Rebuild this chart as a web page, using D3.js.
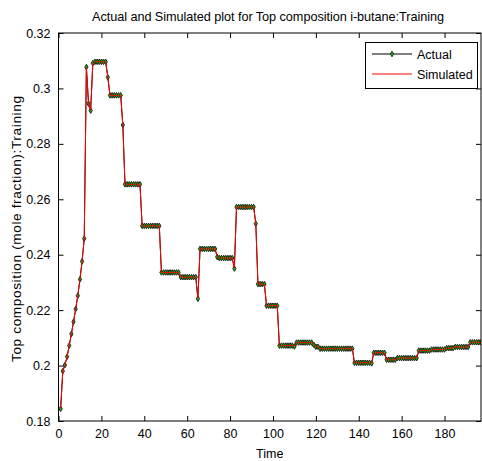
<!DOCTYPE html>
<html>
<head>
<meta charset="utf-8">
<script src="https://cdn.jsdelivr.net/npm/d3@7"></script>
<style>
  html, body { margin: 0; padding: 0; background: #fff; }
  svg { display: block; }
  text { font-family: "Liberation Sans", Arial, Helvetica, sans-serif; fill: #000; }
</style>
</head>
<body>
<svg id="chart" width="482" height="461"></svg>
<script>
// Top composition of i-butane, sampled at time steps 1..197
const actual = [
  0.1844, 0.1980, 0.2002, 0.2032, 0.2072, 0.2114, 0.2158, 0.2204, 0.2252, 0.2311,
  0.2376, 0.2458, 0.3077, 0.2945, 0.2920, 0.3091, 0.3096, 0.3096, 0.3096, 0.3096,
  0.3096, 0.3096, 0.3040, 0.2975, 0.2975, 0.2975, 0.2975, 0.2975, 0.2975, 0.2868,
  0.2654, 0.2654, 0.2654, 0.2654, 0.2654, 0.2654, 0.2654, 0.2654, 0.2504, 0.2504,
  0.2504, 0.2504, 0.2504, 0.2504, 0.2504, 0.2504, 0.2504, 0.2336, 0.2336, 0.2336,
  0.2336, 0.2336, 0.2336, 0.2336, 0.2336, 0.2336, 0.2319, 0.2319, 0.2319, 0.2319,
  0.2319, 0.2319, 0.2319, 0.2319, 0.2241, 0.2421, 0.2421, 0.2421, 0.2421, 0.2421,
  0.2421, 0.2421, 0.2421, 0.2392, 0.2388, 0.2388, 0.2388, 0.2388, 0.2388, 0.2388,
  0.2388, 0.2350, 0.2572, 0.2572, 0.2572, 0.2572, 0.2572, 0.2572, 0.2572, 0.2572,
  0.2572, 0.2512, 0.2294, 0.2294, 0.2294, 0.2294, 0.2216, 0.2216, 0.2216, 0.2216,
  0.2216, 0.2216, 0.2072, 0.2072, 0.2072, 0.2072, 0.2072, 0.2072, 0.2072, 0.2069,
  0.2083, 0.2083, 0.2083, 0.2083, 0.2083, 0.2083, 0.2083, 0.2083, 0.2075, 0.2068,
  0.2068, 0.2061, 0.2061, 0.2061, 0.2061, 0.2061, 0.2061, 0.2061, 0.2061, 0.2061,
  0.2061, 0.2061, 0.2061, 0.2061, 0.2061, 0.2061, 0.2061, 0.2010, 0.2010, 0.2010,
  0.2010, 0.2010, 0.2010, 0.2010, 0.2010, 0.2008, 0.2046, 0.2046, 0.2046, 0.2046,
  0.2046, 0.2046, 0.2021, 0.2021, 0.2021, 0.2021, 0.2021, 0.2027, 0.2027, 0.2027,
  0.2027, 0.2027, 0.2027, 0.2027, 0.2027, 0.2027, 0.2027, 0.2054, 0.2054, 0.2054,
  0.2054, 0.2054, 0.2054, 0.2058, 0.2058, 0.2058, 0.2058, 0.2058, 0.2058, 0.2058,
  0.2063, 0.2063, 0.2063, 0.2063, 0.2067, 0.2067, 0.2067, 0.2067, 0.2067, 0.2067,
  0.2067, 0.2084, 0.2084, 0.2084, 0.2084, 0.2084, 0.2084
];

// Network output for the same time steps
const simulated = [
  0.1846, 0.1978, 0.2004, 0.2031, 0.2073, 0.2113, 0.2159, 0.2203, 0.2253, 0.2310,
  0.2377, 0.2457, 0.3075, 0.2947, 0.2921, 0.3089, 0.3095, 0.3096, 0.3097, 0.3096,
  0.3096, 0.3095, 0.3042, 0.2976, 0.2975, 0.2974, 0.2975, 0.2975, 0.2976, 0.2866,
  0.2655, 0.2654, 0.2653, 0.2654, 0.2654, 0.2655, 0.2654, 0.2653, 0.2505, 0.2504,
  0.2503, 0.2504, 0.2504, 0.2505, 0.2504, 0.2503, 0.2504, 0.2337, 0.2336, 0.2335,
  0.2336, 0.2336, 0.2337, 0.2336, 0.2335, 0.2336, 0.2320, 0.2319, 0.2318, 0.2319,
  0.2319, 0.2320, 0.2319, 0.2318, 0.2243, 0.2420, 0.2421, 0.2422, 0.2421, 0.2421,
  0.2420, 0.2421, 0.2422, 0.2393, 0.2387, 0.2388, 0.2389, 0.2388, 0.2388, 0.2387,
  0.2389, 0.2352, 0.2570, 0.2572, 0.2573, 0.2572, 0.2571, 0.2572, 0.2573, 0.2572,
  0.2571, 0.2514, 0.2295, 0.2294, 0.2293, 0.2294, 0.2217, 0.2216, 0.2215, 0.2216,
  0.2217, 0.2216, 0.2073, 0.2072, 0.2071, 0.2072, 0.2072, 0.2073, 0.2072, 0.2071,
  0.2082, 0.2083, 0.2084, 0.2083, 0.2083, 0.2082, 0.2083, 0.2084, 0.2076, 0.2069,
  0.2068, 0.2062, 0.2061, 0.2060, 0.2061, 0.2061, 0.2062, 0.2061, 0.2060, 0.2061,
  0.2061, 0.2062, 0.2061, 0.2060, 0.2061, 0.2061, 0.2062, 0.2011, 0.2010, 0.2009,
  0.2010, 0.2010, 0.2011, 0.2010, 0.2009, 0.2010, 0.2045, 0.2046, 0.2047, 0.2046,
  0.2046, 0.2045, 0.2022, 0.2021, 0.2020, 0.2021, 0.2021, 0.2026, 0.2027, 0.2028,
  0.2027, 0.2027, 0.2026, 0.2027, 0.2028, 0.2027, 0.2027, 0.2053, 0.2054, 0.2055,
  0.2054, 0.2054, 0.2053, 0.2058, 0.2059, 0.2058, 0.2057, 0.2058, 0.2058, 0.2059,
  0.2063, 0.2062, 0.2063, 0.2064, 0.2067, 0.2068, 0.2067, 0.2066, 0.2067, 0.2067,
  0.2068, 0.2083, 0.2084, 0.2085, 0.2084, 0.2084, 0.2083
];

const xTicks = [0, 20, 40, 60, 80, 100, 120, 140, 160, 180];
const yTicks = [0.18, 0.2, 0.22, 0.24, 0.26, 0.28, 0.3, 0.32];
const xDomain = [0, 197];
const yDomain = [0.18, 0.32];

const titleText = "Actual and Simulated plot for Top composition i-butane:Training";
const xLabelText = "Time";
const yLabelText = "Top composition (mole fraction):Training";
const seriesNames = ["Actual", "Simulated"];

const svg = d3.select("#chart");
const plotLeft = 58.5, plotRight = 481, plotTop = 33, plotBottom = 421;
const tickFont = 12.5;

const x = d3.scaleLinear().domain(xDomain).range([plotLeft, plotRight]);
const y = d3.scaleLinear().domain(yDomain).range([plotBottom, plotTop]);

const actualPts = actual.map((v, i) => ({ t: i + 1, v }));
const simPts = simulated.map((v, i) => ({ t: i + 1, v }));

// clip region for the plotted data
svg.append("defs").append("clipPath").attr("id", "plotClip")
  .append("rect").attr("x", plotLeft).attr("y", plotTop)
  .attr("width", plotRight - plotLeft).attr("height", plotBottom - plotTop);

const line = d3.line().x(d => x(d.t)).y(d => y(d.v));
const plot = svg.append("g").attr("clip-path", "url(#plotClip)");

plot.append("path").datum(actualPts)
  .attr("fill", "none").attr("stroke", "#000").attr("stroke-width", 1)
  .attr("d", line);

const diamond = d3.symbol().type(d3.symbolDiamond).size(9);
plot.append("g").selectAll("path").data(actualPts).join("path")
  .attr("transform", d => `translate(${x(d.t)},${y(d.v)})`)
  .attr("d", diamond)
  .attr("fill", "#0c0").attr("stroke", "#222").attr("stroke-width", 1);

plot.append("path").datum(simPts)
  .attr("fill", "none").attr("stroke", "#f00").attr("stroke-width", 1)
  .attr("d", line);

// axes with inward ticks on all four sides
const tickLen = 5;
const fmtY = d => String(+d.toFixed(2));
const axB = svg.append("g").attr("transform", `translate(0,${plotBottom})`)
  .call(d3.axisBottom(x).tickValues(xTicks).tickSizeInner(-tickLen).tickSizeOuter(0).tickPadding(8));
const axT = svg.append("g").attr("transform", `translate(0,${plotTop})`)
  .call(d3.axisTop(x).tickValues(xTicks).tickSizeInner(-tickLen).tickSizeOuter(0).tickFormat(""));
const axL = svg.append("g").attr("transform", `translate(${plotLeft},0)`)
  .call(d3.axisLeft(y).tickValues(yTicks).tickSizeInner(-tickLen).tickSizeOuter(0).tickPadding(8).tickFormat(fmtY));
const axR = svg.append("g").attr("transform", `translate(${plotRight},0)`)
  .call(d3.axisRight(y).tickValues(yTicks).tickSizeInner(-tickLen).tickSizeOuter(0).tickFormat(""));

[axB, axT, axL, axR].forEach(a => {
  a.select(".domain").remove();
  a.selectAll("line").attr("stroke", "#000");
  a.selectAll("text").attr("font-size", tickFont)
    .attr("font-family", "'Liberation Sans', Arial, sans-serif").attr("fill", "#000");
});

// frame
svg.append("rect").attr("x", plotLeft).attr("y", plotTop)
  .attr("width", plotRight - plotLeft).attr("height", plotBottom - plotTop)
  .attr("fill", "none").attr("stroke", "#000").attr("stroke-width", 1);

// title and labels
svg.append("text").attr("x", 268).attr("y", 21)
  .attr("text-anchor", "middle").attr("font-size", 12.7)
  .attr("textLength", 352).attr("lengthAdjust", "spacing").text(titleText);
svg.append("text").attr("x", (plotLeft + plotRight) / 2).attr("y", 458)
  .attr("text-anchor", "middle").attr("font-size", tickFont).text(xLabelText);
svg.append("text").attr("transform", `translate(21,${(plotTop + plotBottom) / 2 + 2}) rotate(-90)`)
  .attr("text-anchor", "middle").attr("font-size", 13.6)
  .attr("textLength", 266).attr("lengthAdjust", "spacing").text(yLabelText);

// legend
const lg = svg.append("g");
lg.append("rect").attr("x", 365.5).attr("y", 42.5).attr("width", 112).attr("height", 46)
  .attr("fill", "#fff").attr("stroke", "#000").attr("stroke-width", 1);
const rows = [
  { name: seriesNames[0], color: "#000", marker: true, yy: 54 },
  { name: seriesNames[1], color: "#f00", marker: false, yy: 74 }
];
rows.forEach(r => {
  lg.append("line").attr("x1", 372).attr("x2", 412).attr("y1", r.yy).attr("y2", r.yy)
    .attr("stroke", r.color).attr("stroke-width", 1);
  if (r.marker) {
    lg.append("path").attr("transform", `translate(392,${r.yy})`).attr("d", diamond)
      .attr("fill", "#0c0").attr("stroke", "#222").attr("stroke-width", 1);
  }
  lg.append("text").attr("x", 417).attr("y", r.yy + 4.5).attr("font-size", tickFont).text(r.name);
});
</script>
</body>
</html>
